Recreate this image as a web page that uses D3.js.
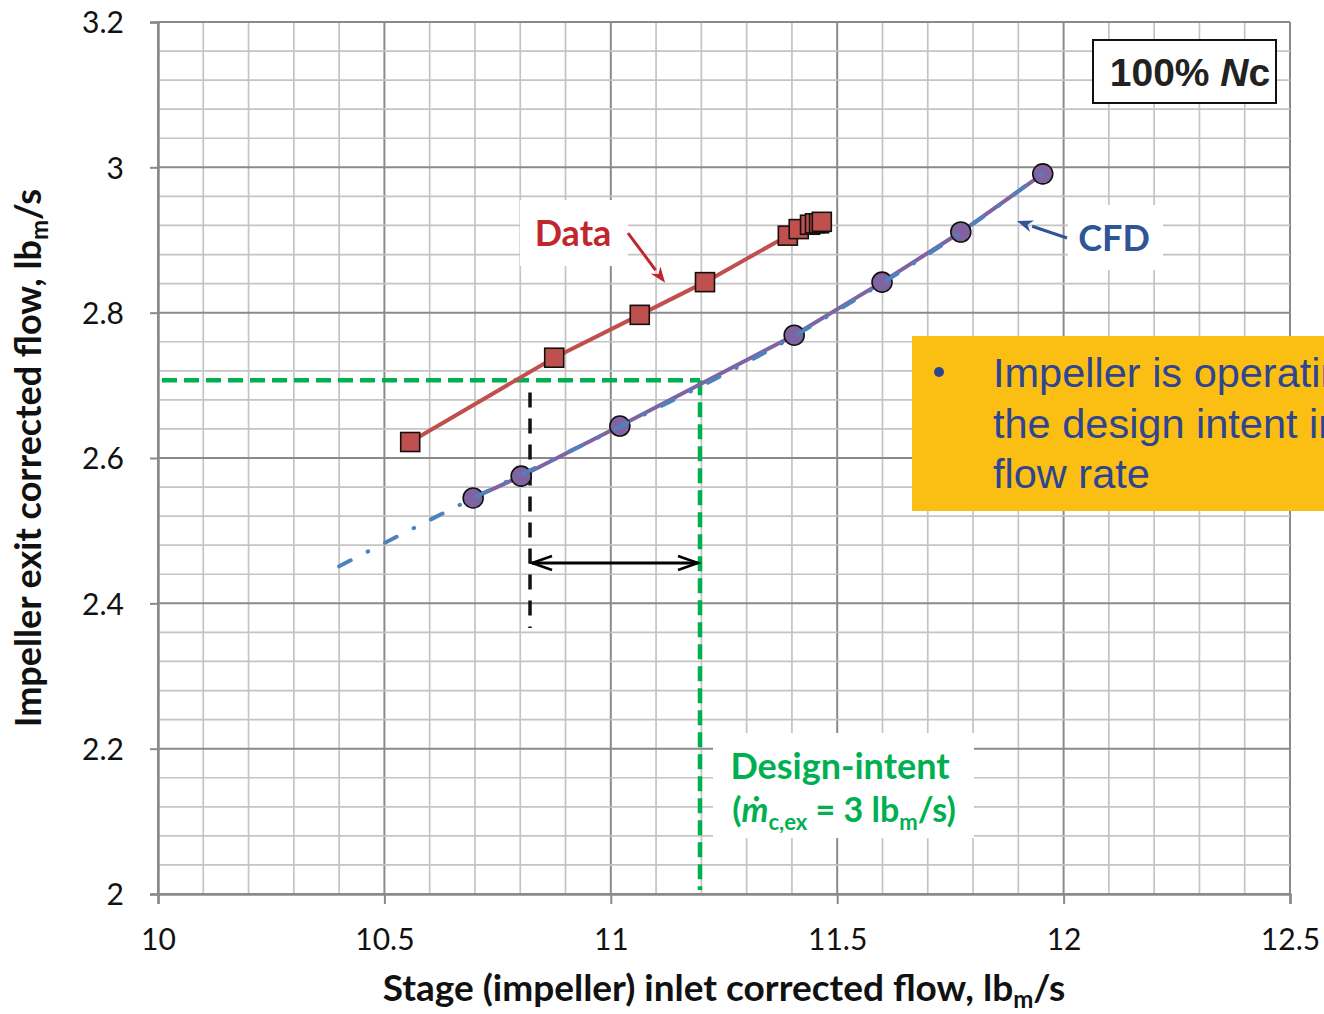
<!DOCTYPE html>
<html><head><meta charset="utf-8">
<script src="https://cdn.jsdelivr.net/npm/d3@7"></script>
<style>body{margin:0;background:#fff;} svg{display:block;}</style>
</head><body>
<svg id="c" width="1324" height="1014"></svg>
<script>
// ---- data ----
const dataX = [10.557, 10.875, 11.064, 11.208, 11.391, 11.415, 11.440, 11.451, 11.460, 11.466];
const dataY = [2.622, 2.738, 2.797, 2.842, 2.906, 2.915, 2.921, 2.923, 2.923, 2.925];
const cfdX = [10.696, 10.802, 11.020, 11.405, 11.599, 11.773, 11.954];
const cfdY = [2.545, 2.575, 2.644, 2.769, 2.842, 2.911, 2.991];
const trendX = [10.40, 10.70, 11.00, 11.40, 11.60, 11.77, 11.96];
const trendY = [2.451, 2.546, 2.637, 2.766, 2.841, 2.909, 2.995];
const designX = 11.197, designY = 2.707;
const opX = 10.8216;
const xTicks = [10, 10.5, 11, 11.5, 12, 12.5];
const yTicks = [2, 2.2, 2.4, 2.6, 2.8, 3, 3.2];

const svg = d3.select("#c");
const x = d3.scaleLinear().domain([10, 12.5]).range([158, 1290]);
const y = d3.scaleLinear().domain([2, 3.2]).range([894, 22]);
const FONT = "Lato, 'Open Sans', sans-serif";

// grid
const g = svg.append("g");
const vMinor = d3.range(0, 26).map(i => 10 + i * 0.1);
const hMinor = d3.range(0, 31).map(i => 2 + i * 0.04);
g.selectAll(".vg").data(vMinor).join("line")
  .attr("x1", d => x(d)).attr("x2", d => x(d)).attr("y1", y(3.2)).attr("y2", y(2))
  .attr("stroke", (d, i) => i % 5 === 0 ? "#8a8a8a" : "#c4c4c4").attr("stroke-width", (d,i)=> i%5===0?2:1.7);
g.selectAll(".hg").data(hMinor).join("line")
  .attr("y1", d => y(d)).attr("y2", d => y(d)).attr("x1", x(10)).attr("x2", x(12.5))
  .attr("stroke", (d, i) => i % 5 === 0 ? "#8a8a8a" : "#c4c4c4").attr("stroke-width", (d,i)=> i%5===0?2:1.7);

// axes
const xAxis = svg.append("g").attr("transform", `translate(0,${y(2)})`)
  .call(d3.axisBottom(x).tickValues(xTicks).tickSize(10).tickPadding(25).tickFormat(d3.format("")));
const yAxis = svg.append("g").attr("transform", `translate(${x(10)},0)`)
  .call(d3.axisLeft(y).tickValues(yTicks).tickSize(8).tickPadding(26).tickFormat(d => d3.format("")(d)));
[xAxis, yAxis].forEach(a => {
  a.select(".domain").attr("stroke", "#8a8a8a").attr("stroke-width", 2.5);
  a.selectAll(".tick line").attr("stroke", "#8a8a8a").attr("stroke-width", 2);
  a.selectAll(".tick text").attr("font-family", FONT).attr("font-size", 30).attr("fill", "#111");
});
yAxis.selectAll(".tick text").attr("dy", "0.36em");

// green design-intent lines
svg.append("line").attr("x1", x(10) + 4).attr("x2", x(designX)).attr("y1", y(designY)).attr("y2", y(designY))
  .attr("stroke", "#00b050").attr("stroke-width", 4.5).attr("stroke-dasharray", "15,7");
svg.append("line").attr("x1", x(designX)).attr("x2", x(designX)).attr("y1", y(designY)).attr("y2", y(2) - 4)
  .attr("stroke", "#00b050").attr("stroke-width", 4.5).attr("stroke-dasharray", "15,7");

// black dashed operating line
svg.append("line").attr("x1", x(opX)).attr("x2", x(opX)).attr("y1", y(2.69)).attr("y2", y(2.366))
  .attr("stroke", "#111").attr("stroke-width", 3.5).attr("stroke-dasharray", "15,11");

// double arrow
const ay = y(2.4555);
svg.append("line").attr("x1", x(opX) + 2).attr("x2", x(designX) - 2).attr("y1", ay).attr("y2", ay)
  .attr("stroke", "#000").attr("stroke-width", 3);
[[x(opX) + 2, 1], [x(designX) - 2, -1]].forEach(([px, dir]) => {
  svg.append("path").attr("d", `M${px + dir * 20},${ay - 7} L${px},${ay} L${px + dir * 20},${ay + 7}`)
    .attr("fill", "none").attr("stroke", "#000").attr("stroke-width", 2.5);
});

// data series
const dataPts = dataX.map((d, i) => [d, dataY[i]]);
const cfdPts = cfdX.map((d, i) => [d, cfdY[i]]);
const line = d3.line().x(d => x(d[0])).y(d => y(d[1]));
svg.append("path").attr("d", line(dataPts)).attr("fill", "none").attr("stroke", "#c0504d").attr("stroke-width", 4);
svg.append("path").attr("d", line(cfdPts)).attr("fill", "none").attr("stroke", "#8064a2").attr("stroke-width", 4);
const sq = 19;
svg.selectAll(".sq").data(dataPts).join("rect")
  .attr("x", d => x(d[0]) - sq / 2).attr("y", d => y(d[1]) - sq / 2).attr("width", sq).attr("height", sq)
  .attr("fill", "#c0504d").attr("stroke", "#111").attr("stroke-width", 1.6);
svg.selectAll(".ci").data(cfdPts).join("circle")
  .attr("cx", d => x(d[0])).attr("cy", d => y(d[1])).attr("r", 10)
  .attr("fill", "#8064a2").attr("stroke", "#111").attr("stroke-width", 1.6);
svg.append("path").attr("d", d3.line().curve(d3.curveMonotoneX).x(d => x(d[0])).y(d => y(d[1]))(trendX.map((d, i) => [d, trendY[i]])))
  .attr("fill", "none").attr("stroke", "#4f81bd").attr("stroke-width", 4)
  .attr("stroke-linecap", "round").attr("stroke-dasharray", "13,19,0.5,19");

function arrow(x1, y1, x2, y2, color, w) {
  const ang = Math.atan2(y2 - y1, x2 - x1), L = 16, W = 6;
  const bx = x2 - L * Math.cos(ang), by = y2 - L * Math.sin(ang);
  svg.append("line").attr("x1", x1).attr("y1", y1).attr("x2", bx).attr("y2", by).attr("stroke", color).attr("stroke-width", w);
  const px = -Math.sin(ang), py = Math.cos(ang);
  svg.append("path").attr("d", `M${x2},${y2} L${bx + px * W},${by + py * W} L${x2 - L * 0.7 * Math.cos(ang)},${y2 - L * 0.7 * Math.sin(ang)} L${bx - px * W},${by - py * W} Z`)
    .attr("fill", color);
}

// annotation: Data
svg.append("rect").attr("x", 520).attr("y", 200).attr("width", 108).attr("height", 66).attr("fill", "#fff");
svg.append("text").attr("x", 573).attr("y", 246).attr("text-anchor", "middle")
  .attr("font-family", FONT).attr("font-weight", "bold").attr("font-size", 36).attr("fill", "#c0272d").text("Data");
arrow(x(11.038), y(2.9096), x(11.120), y(2.841), "#c0272d", 3);

// annotation: CFD
svg.append("rect").attr("x", 1068).attr("y", 205).attr("width", 95).attr("height", 65).attr("fill", "#fff");
svg.append("text").attr("x", 1114).attr("y", 251).attr("text-anchor", "middle")
  .attr("font-family", FONT).attr("font-weight", "bold").attr("font-size", 36).attr("fill", "#2f5597").text("CFD");
arrow(x(12.0075), y(2.9027), x(11.897), y(2.926), "#2f5597", 3);

// annotation: design-intent
svg.append("rect").attr("x", 713).attr("y", 733).attr("width", 261).attr("height", 105).attr("fill", "#fff");
svg.append("text").attr("x", 840).attr("y", 779).attr("text-anchor", "middle")
  .attr("font-family", FONT).attr("font-weight", "bold").attr("font-size", 36).attr("fill", "#00b050").text("Design-intent");
const t2 = svg.append("text").attr("x", 844).attr("y", 822).attr("text-anchor", "middle")
  .attr("font-family", FONT).attr("font-weight", "bold").attr("font-size", 34).attr("fill", "#00b050");
t2.append("tspan").text("(");
t2.append("tspan").attr("font-style", "italic").text("ṁ");
t2.append("tspan").attr("font-size", 22).attr("dy", 8).text("c,ex");
t2.append("tspan").attr("dy", -8).text(" = 3 lb");
t2.append("tspan").attr("font-size", 22).attr("dy", 8).text("m");
t2.append("tspan").attr("dy", -8).text("/s)");

// 100% Nc box
svg.append("rect").attr("x", 1093).attr("y", 40).attr("width", 183).attr("height", 63)
  .attr("fill", "#fff").attr("stroke", "#111").attr("stroke-width", 2);
const nc = svg.append("text").attr("x", 1190).attr("y", 86).attr("text-anchor", "middle")
  .attr("font-family", "'Liberation Sans', Arial, sans-serif").attr("font-weight", "bold").attr("font-size", 39).attr("fill", "#222");
nc.append("tspan").text("100% ");
nc.append("tspan").attr("font-style", "italic").text("N");
nc.append("tspan").text("c");

// yellow callout (text runs off the right edge as in the reference)
svg.append("rect").attr("x", 912).attr("y", 336).attr("width", 420).attr("height", 175).attr("fill", "#fbbe12");
svg.append("circle").attr("cx", 939).attr("cy", 372).attr("r", 5).attr("fill", "#2e4592");
const lines = ["Impeller is operating close to", "the design intent in terms of", "flow rate"];
lines.forEach((s, i) => {
  svg.append("text").attr("x", 993).attr("y", 387 + i * 50.5)
    .attr("font-family", "'Liberation Sans', Arial, sans-serif").attr("font-size", 41.5).attr("fill", "#2e4592").text(s);
});

// axis titles
const xt = svg.append("text").attr("x", 724).attr("y", 1001).attr("text-anchor", "middle")
  .attr("font-family", FONT).attr("font-weight", "bold").attr("font-size", 37).attr("fill", "#111");
xt.append("tspan").text("Stage (impeller) inlet corrected flow, lb");
xt.append("tspan").attr("font-size", 24).attr("dy", 7).text("m");
xt.append("tspan").attr("dy", -7).text("/s");
const yt = svg.append("text").attr("transform", `translate(41,${(y(2) + y(3.2)) / 2}) rotate(-90)`).attr("text-anchor", "middle")
  .attr("font-family", FONT).attr("font-weight", "bold").attr("font-size", 36).attr("fill", "#111");
yt.append("tspan").text("Impeller exit corrected flow, lb");
yt.append("tspan").attr("font-size", 24).attr("dy", 7).text("m");
yt.append("tspan").attr("dy", -7).text("/s");
</script>
</body></html>
